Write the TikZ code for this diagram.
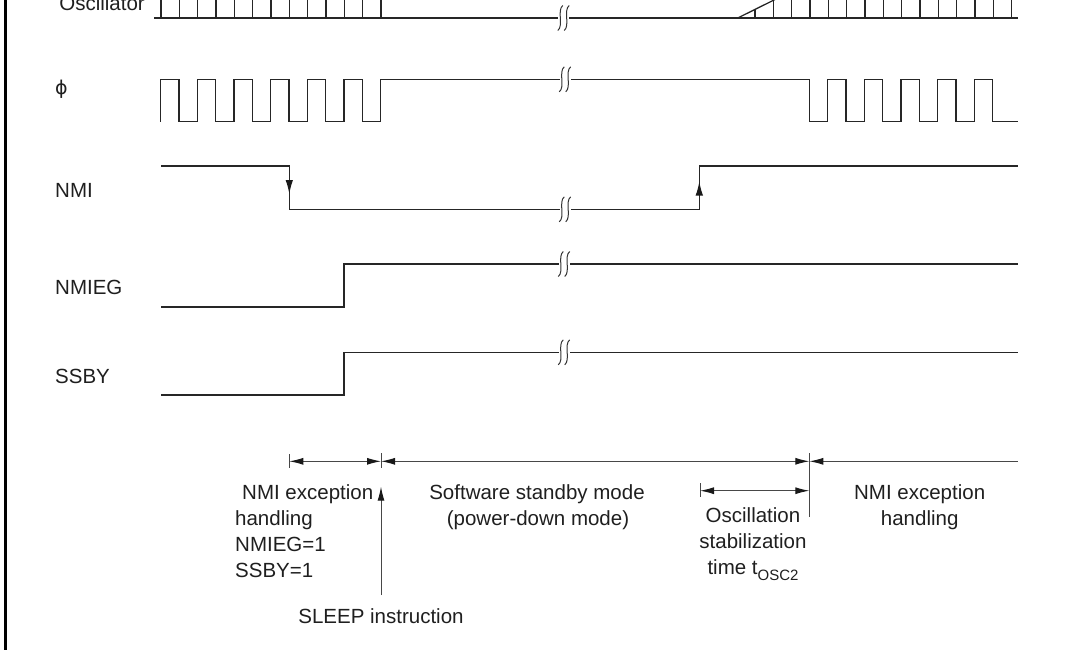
\documentclass[tikz,border=0pt]{standalone}
\usepackage{fontspec}
\setmainfont{Liberation Sans}
\newfontfamily\djv{DejaVu Sans}
\usetikzlibrary{arrows.meta}
\newcommand\brkmark[2]{%
  \fill[white] ({#1-5.5},{#2-2.5}) rectangle ({#1+5.5},{#2+2.5});
  \foreach \dx in {-3.2,3.2}{
    \draw[line width=1pt, draw=black!80] ({#1+\dx+2.5},{#2-12.5}) .. controls ({#1+\dx-3.5},{#2-8}) and ({#1+\dx+3.5},{#2+8}) .. ({#1+\dx-2.5},{#2+12.5});
  }%
}
\begin{document}
\begin{tikzpicture}[x=1pt,y=-1pt,
  wave/.style={line width=1.3pt, draw=black!85, line join=miter},
  dim/.style={line width=1pt, draw=black!72},
  lbl/.style={font=\fontsize{20.5}{26}\selectfont, text=black!88, inner sep=0pt},
  wtip/.style={-{Latex[length=14pt,width=7.5pt,color=black!90]}},
  dboth/.style={{Latex[length=14pt,width=7pt,color=black!90]}-{Latex[length=14pt,width=7pt,color=black!90]}},
  dleft/.style={{Latex[length=14pt,width=7pt,color=black!90]}-},
  dright/.style={-{Latex[length=14pt,width=7pt,color=black!90]}}
]
\useasboundingbox (0,0) rectangle (1066,649);
\draw[line width=2.7pt, draw=black] (5.3,-5) -- (5.3,655);

% ---- labels
\node[lbl, anchor=base east] (loscl) at (145,10) {Oscillator};
\node[lbl, anchor=base west] (lphi) at (55,94) {\djv\fontsize{19}{19}\selectfont ϕ};
\node[lbl, anchor=base west] (lnmi) at (55,197) {NMI};
\node[lbl, anchor=base west] (lnmieg) at (55,294) {NMIEG};
\node[lbl, anchor=base west] (lssby) at (55,383) {SSBY};

% ---- Oscillator
\draw[wave] (154,18) -- (1018.3,18);
\foreach \i in {0,...,12} \draw[wave] ({161+\i*18.333},18) -- ({161+\i*18.333},-5);
\draw[wave] (737.7,18) -- (784.1,-5);
\draw[wave] (755,18) -- (755,9.4);
\draw[wave] (773.3,18) -- (773.3,0.4);
\foreach \i in {0,...,12} \draw[wave] ({791.7+\i*18.333},18) -- ({791.7+\i*18.333},-5);
\brkmark{563.5}{18}

% ---- phi
\draw[wave] (160.7,121.7)
  foreach \i in {1,...,6} { -- ++(0,-42.4) -- ++(18.333,0) -- ++(0,42.4) -- ++(18.333,0) }
  -- ++(0,-42.4) -- (809.3,79.3) -- (809.3,121.7) -- ++(18.333,0)
  foreach \i in {1,...,4} { -- ++(0,-42.4) -- ++(18.333,0) -- ++(0,42.4) -- ++(18.333,0) }
  -- ++(0,-42.4) -- ++(18.333,0) -- ++(0,42.4) -- (1018.3,121.7);
\brkmark{565}{79.3}

% ---- NMI
\draw[wave] (161,166) -- (289.3,166) -- (289.3,209.3) -- (699.3,209.3) -- (699.3,166) -- (1018.3,166);
\coordinate (nf1) at (289.3,166);
\coordinate (nf2) at (289.3,194);
\coordinate (nr1) at (699.3,209.3);
\coordinate (nr2) at (699.3,181.5);
\draw[wave, wtip] (nf1) -- (nf2);
\draw[wave, wtip] (nr1) -- (nr2);
\brkmark{565}{209.3}

% ---- NMIEG
\draw[wave] (161,307) -- (344,307) -- (344,264) -- (1018.3,264);
\brkmark{564}{264}

% ---- SSBY
\draw[wave] (161,395) -- (344,395) -- (344,352.3) -- (1018.3,352.3);
\brkmark{564}{352.3}

% ---- dimension lines
\coordinate (d1) at (289.3,461.3);
\coordinate (d2) at (381,461.3);
\coordinate (d3) at (809.3,461.3);
\coordinate (d4) at (1018.3,461.3);
\coordinate (e1) at (700,490.7);
\coordinate (e2) at (809.3,490.7);
\draw[dim] (289.3,454) -- (289.3,467.5);
\draw[dim] (381,453) -- (381,468);
\draw[dim] (809.3,453) -- (809.3,517);
\draw[dim] (700,483.3) -- (700,497);
\draw[dim, dboth] (d1) -- (d2);
\draw[dim, dboth] (d2) -- (d3);
\draw[dim, dleft] (d3) -- (d4);
\draw[dim, dboth] (e1) -- (e2);
\coordinate (s1) at (381,595);
\coordinate (s2) at (381,486.7);
\draw[dim, dright] (s1) -- (s2);

% ---- texts
\node[lbl, anchor=base west] (t1a) at (242,499.3) {NMI exception};
\node[lbl, anchor=base west] (t1b) at (235,525.3) {handling};
\node[lbl, anchor=base west] (t1c) at (235,551.5) {NMIEG=1};
\node[lbl, anchor=base west] (t1d) at (235,577.7) {SSBY=1};
\node[lbl, anchor=base] (t2a) at (537,499.3) {Software standby mode};
\node[lbl, anchor=base] (t2b) at (538,525.3) {(power-down mode)};
\node[lbl, anchor=base] (t3a) at (753,522) {Oscillation};
\node[lbl, anchor=base] (t3b) at (753,548) {stabilization};
\node[lbl, anchor=base] (t3c) at (753,574) {time t\raisebox{-0.32em}{\fontsize{15}{15}\selectfont OSC2}};
\node[lbl, anchor=base] (t4a) at (919.7,499.3) {NMI exception};
\node[lbl, anchor=base] (t4b) at (919.7,525.3) {handling};
\node[lbl, anchor=base] (t5) at (381,623.3) {SLEEP instruction};
\end{tikzpicture}
\end{document}
